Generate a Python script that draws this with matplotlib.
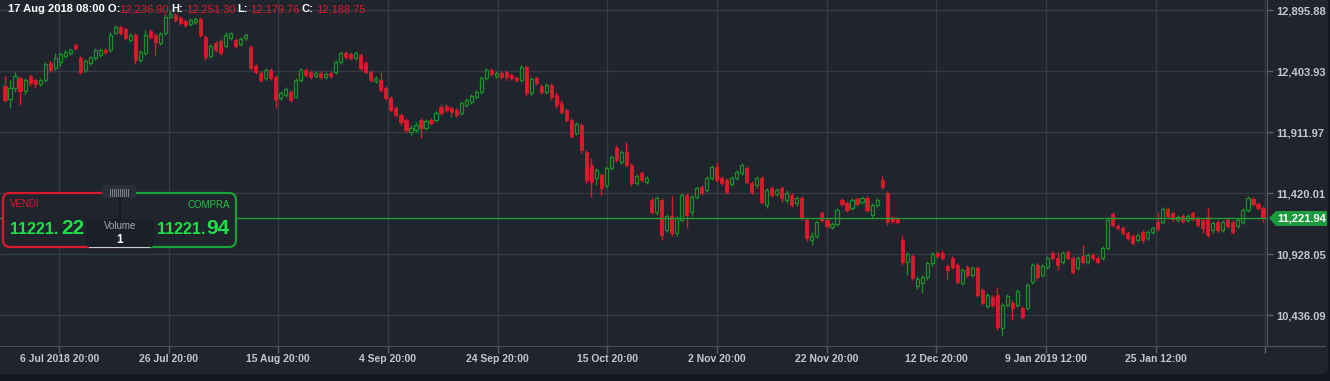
import matplotlib
matplotlib.use("Agg")
import matplotlib.pyplot as plt
from matplotlib.patches import FancyBboxPatch, Rectangle, Polygon
import numpy as np

plt.rcParams["font.family"] = ["Liberation Sans", "DejaVu Sans"]

# 4h candles, DAX (Jul 2018 - Feb 2019)
opens = [
    12285, 12181, 12269, 12350, 12245, 12366, 12334, 12302, 12334, 12471,
    12431, 12479, 12527, 12552, 12616, 12511, 12414, 12471, 12511, 12535,
    12576, 12576, 12713, 12761, 12745, 12656, 12697, 12495, 12552, 12729,
    12697, 12632, 12713, 12842, 12858, 12834, 12810, 12785, 12802, 12826,
    12681, 12527, 12632, 12648, 12608, 12672, 12656, 12624, 12672, 12600,
    12447, 12390, 12350, 12414, 12358, 12189, 12213, 12237, 12197, 12334,
    12414, 12398, 12366, 12390, 12358, 12390, 12398, 12479, 12552, 12543,
    12511, 12535, 12471, 12398, 12326, 12334, 12269, 12189, 12108, 12052,
    12011, 11914, 11931, 12011, 11947, 12011, 12011, 12116, 12124, 12108,
    12092, 12068, 12132, 12156, 12197, 12237, 12350, 12414, 12366, 12390,
    12398, 12374, 12350, 12334, 12439, 12229, 12350, 12285, 12237, 12293,
    12213, 12148, 12092, 12011, 11906, 11971, 11753, 11648, 11543, 11568,
    11487, 11624, 11785, 11672, 11753, 11648, 11503, 11584, 11511, 11366,
    11269, 11366, 11124, 11237, 11100, 11205, 11406, 11269, 11390, 11471,
    11447, 11543, 11632, 11543, 11527, 11495, 11543, 11584, 11624, 11503,
    11487, 11543, 11326, 11463, 11414, 11463, 11366, 11406, 11342, 11382,
    11205, 11043, 11076, 11261, 11205, 11148, 11172, 11366, 11342, 11301,
    11374, 11350, 11382, 11245, 11326, 11527, 11422, 11221, 11213, 11043,
    10866, 10914, 10672, 10697, 10745, 10858, 10939, 10939, 10834, 10898,
    10842, 10697, 10826, 10761, 10818, 10640, 10511, 10584, 10600, 10334,
    10519, 10535, 10519, 10495, 10495, 10705, 10842, 10761, 10826, 10939,
    10898, 10866, 10947, 10898, 10818, 10914, 10866, 10922, 10898, 10898,
    10979, 11253, 11156, 11140, 11100, 11076, 11043, 11108, 11060, 11108,
    11189, 11189, 11293, 11261, 11205, 11237, 11205, 11261, 11221, 11205,
    11229, 11124, 11189, 11124, 11205, 11189, 11156, 11189, 11285, 11374,
    11334, 11301,
]
highs = [
    12366, 12334, 12398, 12366, 12350, 12382, 12350, 12350, 12479, 12495,
    12552, 12560, 12576, 12592, 12632, 12527, 12503, 12527, 12592, 12592,
    12592, 12721, 12777, 12777, 12761, 12713, 12713, 12576, 12737, 12745,
    12713, 12721, 12866, 12898, 12874, 12850, 12826, 12834, 12842, 12842,
    12697, 12624, 12648, 12664, 12721, 12721, 12672, 12681, 12713, 12616,
    12463, 12406, 12431, 12431, 12374, 12245, 12277, 12253, 12350, 12431,
    12431, 12414, 12406, 12406, 12398, 12406, 12495, 12568, 12568, 12560,
    12568, 12552, 12487, 12414, 12366, 12398, 12285, 12205, 12124, 12068,
    12027, 11971, 11995, 12027, 12019, 12027, 12084, 12140, 12140, 12124,
    12108, 12164, 12189, 12221, 12253, 12366, 12431, 12431, 12406, 12406,
    12414, 12390, 12366, 12455, 12455, 12358, 12366, 12302, 12310, 12310,
    12237, 12172, 12108, 12027, 11995, 11987, 11769, 11705, 11624, 11584,
    11640, 11729, 11810, 11769, 11834, 11664, 11576, 11600, 11560, 11390,
    11398, 11382, 11253, 11398, 11237, 11422, 11422, 11406, 11479, 11487,
    11560, 11648, 11672, 11560, 11543, 11560, 11608, 11664, 11640, 11519,
    11560, 11568, 11463, 11479, 11463, 11479, 11447, 11422, 11398, 11398,
    11221, 11108, 11205, 11277, 11221, 11189, 11301, 11382, 11358, 11382,
    11390, 11398, 11398, 11342, 11382, 11560, 11439, 11237, 11229, 11084,
    10947, 10931, 10753, 10761, 10874, 10947, 10955, 10963, 10850, 10914,
    10858, 10818, 10842, 10834, 10834, 10656, 10616, 10600, 10664, 10535,
    10608, 10560, 10648, 10511, 10697, 10858, 10858, 10850, 10914, 10955,
    10947, 10955, 10963, 10914, 10914, 11003, 10939, 10939, 10914, 10995,
    11229, 11269, 11172, 11156, 11116, 11092, 11100, 11124, 11124, 11156,
    11269, 11310, 11310, 11277, 11245, 11253, 11253, 11277, 11237, 11221,
    11301, 11197, 11205, 11205, 11221, 11205, 11221, 11301, 11398, 11390,
    11350, 11318,
]
lows = [
    12156, 12108, 12237, 12132, 12221, 12285, 12269, 12285, 12318, 12398,
    12414, 12447, 12511, 12535, 12576, 12382, 12398, 12455, 12495, 12519,
    12543, 12560, 12705, 12697, 12656, 12640, 12463, 12479, 12535, 12664,
    12535, 12616, 12697, 12834, 12802, 12777, 12761, 12769, 12785, 12681,
    12495, 12511, 12560, 12535, 12592, 12656, 12592, 12608, 12656, 12414,
    12382, 12318, 12334, 12334, 12108, 12172, 12197, 12156, 12189, 12318,
    12358, 12342, 12350, 12342, 12342, 12350, 12382, 12463, 12503, 12495,
    12495, 12414, 12382, 12318, 12310, 12237, 12172, 12076, 12035, 11971,
    11906, 11890, 11914, 11866, 11931, 11971, 11995, 12052, 12076, 12035,
    12035, 12052, 12116, 12140, 12181, 12221, 12334, 12366, 12350, 12342,
    12334, 12334, 12318, 12318, 12205, 12205, 12293, 12221, 12221, 12172,
    12108, 12060, 11995, 11866, 11890, 11745, 11503, 11390, 11487, 11406,
    11463, 11608, 11672, 11656, 11632, 11479, 11487, 11511, 11495, 11253,
    11245, 11043, 11108, 11076, 11076, 11189, 11140, 11237, 11374, 11406,
    11431, 11527, 11511, 11487, 11414, 11479, 11527, 11568, 11495, 11414,
    11463, 11334, 11301, 11390, 11398, 11350, 11342, 11310, 11318, 11205,
    11035, 11003, 11060, 11189, 11140, 11132, 11156, 11318, 11269, 11285,
    11318, 11334, 11269, 11221, 11310, 11455, 11164, 11180, 11172, 10842,
    10761, 10721, 10648, 10616, 10721, 10834, 10898, 10882, 10729, 10810,
    10689, 10680, 10745, 10745, 10584, 10519, 10495, 10503, 10318, 10269,
    10503, 10398, 10503, 10406, 10479, 10689, 10721, 10745, 10810, 10882,
    10801, 10850, 10882, 10769, 10801, 10850, 10850, 10882, 10850, 10882,
    10963, 11148, 11124, 11084, 11043, 11003, 11027, 11019, 11043, 11092,
    11116, 11172, 11221, 11197, 11189, 11180, 11189, 11197, 11148, 11100,
    11068, 11100, 11108, 11108, 11140, 11092, 11140, 11172, 11269, 11318,
    11285, 11189,
]
closes = [
    12172, 12269, 12366, 12245, 12334, 12310, 12302, 12334, 12463, 12414,
    12511, 12543, 12560, 12576, 12592, 12398, 12487, 12519, 12576, 12576,
    12560, 12697, 12761, 12713, 12672, 12697, 12495, 12560, 12697, 12681,
    12640, 12705, 12842, 12866, 12818, 12793, 12777, 12818, 12826, 12697,
    12519, 12608, 12576, 12552, 12697, 12713, 12608, 12664, 12697, 12431,
    12398, 12334, 12414, 12350, 12172, 12229, 12261, 12172, 12334, 12414,
    12374, 12358, 12390, 12358, 12382, 12366, 12479, 12552, 12519, 12511,
    12552, 12431, 12398, 12334, 12350, 12253, 12189, 12092, 12052, 11995,
    11931, 11947, 11971, 11947, 12003, 11987, 12068, 12068, 12092, 12076,
    12052, 12148, 12172, 12205, 12237, 12350, 12414, 12382, 12390, 12358,
    12358, 12350, 12334, 12439, 12229, 12342, 12310, 12237, 12293, 12197,
    12132, 12076, 12011, 11882, 11979, 11769, 11527, 11511, 11608, 11463,
    11624, 11713, 11689, 11753, 11648, 11503, 11560, 11527, 11543, 11269,
    11382, 11084, 11237, 11100, 11221, 11406, 11245, 11390, 11463, 11422,
    11543, 11632, 11527, 11503, 11431, 11543, 11592, 11648, 11511, 11431,
    11543, 11350, 11447, 11406, 11447, 11382, 11422, 11326, 11382, 11221,
    11060, 11076, 11189, 11205, 11156, 11172, 11285, 11334, 11285, 11366,
    11334, 11382, 11285, 11326, 11366, 11471, 11189, 11197, 11189, 10866,
    10931, 10737, 10729, 10745, 10858, 10931, 10914, 10898, 10801, 10826,
    10705, 10801, 10761, 10818, 10600, 10535, 10600, 10519, 10342, 10519,
    10592, 10495, 10632, 10422, 10680, 10842, 10745, 10834, 10898, 10898,
    10842, 10939, 10898, 10785, 10898, 10866, 10922, 10898, 10866, 10979,
    11205, 11164, 11140, 11100, 11060, 11019, 11084, 11043, 11108, 11140,
    11132, 11293, 11237, 11213, 11229, 11197, 11237, 11213, 11164, 11140,
    11084, 11180, 11124, 11189, 11156, 11108, 11205, 11285, 11382, 11334,
    11301, 11221.94,
]

# price axis and time axis labels
price_ticks = [12895.88, 12403.93, 11911.97, 11420.01, 10928.05, 10436.09]
time_labels = ["6 Jul 2018 20:00", "26 Jul 20:00", "15 Aug 20:00", "4 Sep 20:00",
               "24 Sep 20:00", "15 Oct 20:00", "2 Nov 20:00", "22 Nov 20:00",
               "12 Dec 20:00", "9 Jan 2019 12:00", "25 Jan 12:00", ""]
time_ticks = [10.8, 32.7, 54.5, 76.4, 98.3, 120.2, 142.1, 164.0, 185.8, 207.7, 229.6, 251.4]
last_price = 11221.94
header = ("17 Aug 2018 08:00", 12236.90, 12251.30, 12179.76, 12188.75)

BG = "#20242d"
GRID = "#363a42"
RED = "#dc1a2c"
GREEN = "#1a8f2a"
TXT = "#c4c7cc"

W, H = 1330, 381
fig = plt.figure(figsize=(W / 100, H / 100), dpi=100, facecolor="#131720")

# background panel (lighter) above the dark bottom strip
bgax = fig.add_axes([0, 0, 1, 1])
bgax.set_xlim(0, W)
bgax.set_ylim(H, 0)
bgax.axis("off")
bgax.add_patch(FancyBboxPatch((-10, -10), W - 2 + 10, 374 + 10,
                              boxstyle="round,pad=0,rounding_size=5",
                              facecolor=BG, edgecolor="none"))

ax = fig.add_axes([0, 1 - 346 / H, 1267 / W, 346 / H])
ax.set_facecolor(BG)
ax.patch.set_alpha(0)

x = np.arange(len(closes))
o = np.array(opens, float)
c = np.array(closes, float)
hi = np.array(highs, float)
lo = np.array(lows, float)
up = c >= o

ax.vlines(x[up], lo[up], hi[up], color=GREEN, lw=1, zorder=3)
ax.vlines(x[~up], lo[~up], hi[~up], color=RED, lw=1, zorder=3)
body_lo = np.minimum(o, c)
body_h = np.maximum(np.abs(c - o), 4)
ax.bar(x[up], body_h[up], bottom=body_lo[up], width=0.62,
       facecolor=BG, edgecolor=GREEN, lw=0.9, zorder=4)
ax.bar(x[~up], body_h[~up], bottom=body_lo[~up], width=0.62,
       facecolor=RED, edgecolor=RED, lw=0.6, zorder=4)

ax.axhline(last_price, color="#1f9d35", lw=1, zorder=5)

ax.set_xlim(-1.0, 251.8)
ax.set_ylim(10188.5, 12979)
ax.set_yticks(price_ticks)
ax.set_yticklabels([f"{v:,.2f}" for v in price_ticks])
ax.yaxis.tick_right()
ax.set_xticks(time_ticks)
ax.set_xticklabels(time_labels)
ax.tick_params(axis="y", colors="#5a5e66", length=4, width=1, pad=3,
               labelcolor=TXT, labelsize=8)
ax.tick_params(axis="x", colors="#5a5e66", length=5, width=1, pad=1,
               labelcolor=TXT, labelsize=7.5)
for lab in ax.get_yticklabels() + ax.get_xticklabels():
    lab.set_fontweight("bold")
ax.grid(True, color=GRID, lw=1, zorder=0)
for s in ["top", "left"]:
    ax.spines[s].set_visible(False)
ax.spines["right"].set_color("#55585f")
ax.spines["bottom"].set_color("#4a4e56")

# overlay in pixel coordinates
ov = fig.add_axes([0, 0, 1, 1], zorder=10)
ov.set_xlim(0, W)
ov.set_ylim(H, 0)
ov.axis("off")
ov.patch.set_alpha(0)

ov.plot([1267, 1325], [346, 346], color="#4a4e56", lw=1)

# header text
ov.text(8, 9, header[0] + " O:", color="white", fontsize=8, fontweight="bold", va="center")
ov.text(119, 9, f"{header[1]:,.2f}", color=RED, fontsize=8, va="center")
ov.text(171, 9, "H:", color="white", fontsize=8, fontweight="bold", va="center")
ov.text(186, 9, f"{header[2]:,.2f}", color=RED, fontsize=8, va="center")
ov.text(237, 9, "L:", color="white", fontsize=8, fontweight="bold", va="center")
ov.text(250, 9, f"{header[3]:,.2f}", color=RED, fontsize=8, va="center")
ov.text(301, 9, "C:", color="white", fontsize=8, fontweight="bold", va="center")
ov.text(316, 9, f"{header[4]:,.2f}", color=RED, fontsize=8, va="center")

# last price tag
ov.add_patch(Polygon([[1269, 218], [1276, 211], [1327, 211], [1327, 226], [1276, 226]],
                     closed=True, facecolor="#1c9a3d", edgecolor="none"))
ov.text(1302, 218.5, f"{last_price:,.2f}", color="white", fontsize=8,
        fontweight="bold", ha="center", va="center")

# trade widget
def outline(color, x0, x1):
    p = FancyBboxPatch((3, 193), 233, 54, boxstyle="round,pad=0,rounding_size=7",
                       facecolor=BG, edgecolor=color, lw=1.6)
    ov.add_patch(p)
    clip = Rectangle((x0, 0), x1 - x0, H, transform=ov.transData)
    p.set_clip_path(clip)

outline(RED, 0, 120)
outline("#1aa23a", 120, 240)

ov.plot([120, 120], [198, 220], color="#15181e", lw=1.5)
ov.add_patch(FancyBboxPatch((102, 185), 34, 13, boxstyle="round,pad=0,rounding_size=3",
                            facecolor="#2a2f3a", edgecolor="none"))
for k in range(10):
    ov.plot([110 + 2 * k, 110 + 2 * k], [189, 196], color="#7c818a", lw=0.7)

ov.add_patch(FancyBboxPatch((86, 219), 68, 28, boxstyle="round,pad=0,rounding_size=3",
                            facecolor="#1b1f27", edgecolor="none"))
ov.text(120, 226, "Volume", color="#a4a8b0", fontsize=7, ha="center", va="center")
ov.text(120, 240, "1", color="white", fontsize=8.5, fontweight="bold", ha="center", va="center")
ov.plot([89, 149], [246.5, 246.5], color="#c8cbd0", lw=0.8)

ov.text(10, 204, "VENDI", color=RED, fontsize=7, va="center")
ov.text(230, 205, "COMPRA", color="#20c24a", fontsize=7, ha="right", va="center")
NUM = "#1fe04b"
ov.text(10, 230, "11221.", color=NUM, fontsize=11.5, fontweight="bold", va="center")
ov.text(61, 228, "22", color=NUM, fontsize=15, fontweight="bold", va="center")
ov.text(157, 230, "11221.", color=NUM, fontsize=11.5, fontweight="bold", va="center")
ov.text(206, 228, "94", color=NUM, fontsize=15, fontweight="bold", va="center")

fig.savefig("out.png", dpi=100, facecolor=fig.get_facecolor())
